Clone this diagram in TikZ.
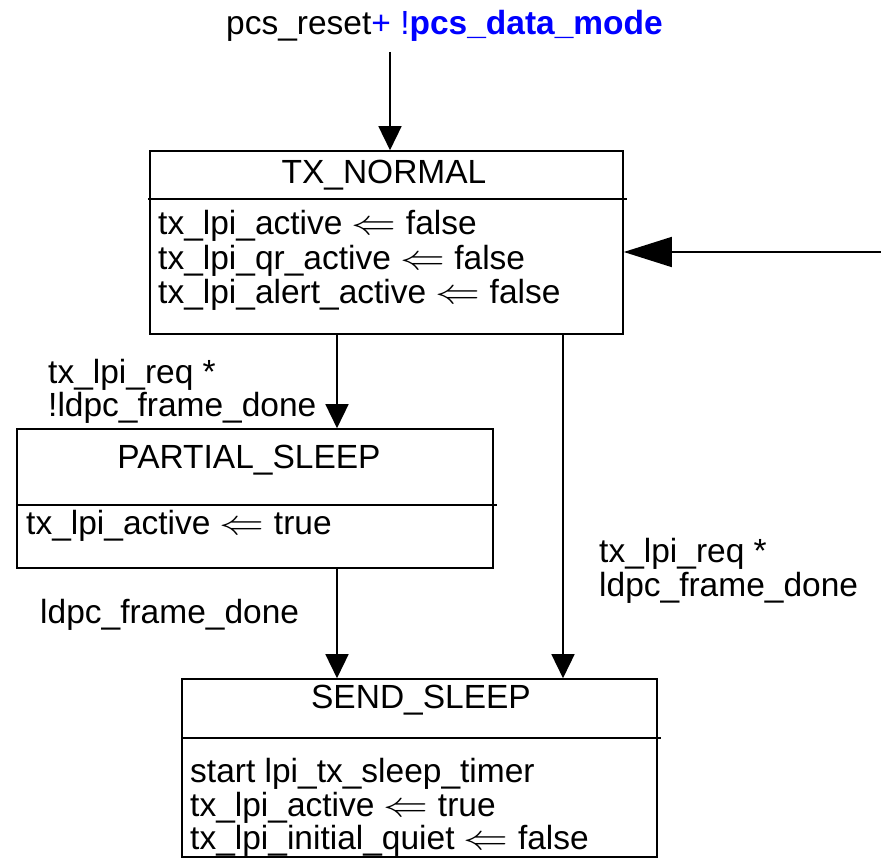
\documentclass[tikz,border=0pt]{standalone}
\usepackage{fontspec}
\usepackage{graphicx}
\setmainfont{Liberation Sans}
\usetikzlibrary{arrows.meta}
\definecolor{linkblue}{RGB}{0,0,255}
\newcommand\assignarrow{\smash{\scalebox{1.8}[1.4]{$\Leftarrow$}}}
\begin{document}
\begin{tikzpicture}[x=1pt,y=-1pt,
  every node/.style={font=\fontsize{33.5}{35}\selectfont, inner sep=0pt},
  statebox/.style={draw, line width=1.6pt, rectangle},
  divider/.style={line width=1.6pt},
  txt/.style={anchor=base west},
  ttl/.style={anchor=base},
  trans/.style={line width=1.5pt, -{Triangle[length=24pt,width=23pt]}},
  bigtrans/.style={line width=1.5pt, -{Triangle[length=48pt,width=30pt]}}]
\useasboundingbox (0,0) rectangle (881,859);

% state boxes
\node[statebox, minimum width=473pt, minimum height=183pt] (txn) at (386.5,242.5) {};
\node[statebox, minimum width=476pt, minimum height=139pt] (ps) at (255,498.5) {};
\node[statebox, minimum width=475pt, minimum height=178pt] (ss) at (419.5,768) {};

% title / action dividers
\draw[divider] (148,199) -- (627,199);
\draw[divider] (17,505) -- (497,505);
\draw[divider] (182,738) -- (661,738);

% TX_NORMAL
\node[ttl] (txnT) at (384,183) {TX\_NORMAL};
\node[txt] (txn1) at (158,234) {tx\_lpi\_active \assignarrow{} false};
\node[txt] (txn2) at (158,269) {tx\_lpi\_qr\_active \assignarrow{} false};
\node[txt] (txn3) at (158,303) {tx\_lpi\_alert\_active \assignarrow{} false};

% PARTIAL_SLEEP
\node[ttl] (psT) at (249,468) {PARTIAL\_SLEEP};
\node[txt] (ps1) at (26,534) {tx\_lpi\_active \assignarrow{} true};

% SEND_SLEEP
\node[ttl] (ssT) at (421,708) {SEND\_SLEEP};
\node[txt] (ss1) at (190,782) {start lpi\_tx\_sleep\_timer};
\node[txt] (ss2) at (190,816) {tx\_lpi\_active \assignarrow{} true};
\node[txt] (ss3) at (190,849) {tx\_lpi\_initial\_quiet \assignarrow{} false};

% entry condition
\node[txt] (entry) at (226,35) {pcs\_reset{\color{linkblue}+ !\textbf{pcs\_data\_mode}}};

% transition labels
\node[txt] (l1a) at (48,383) {tx\_lpi\_req *};
\node[txt] (l1b) at (48,416) {!ldpc\_frame\_done};
\node[txt] (l2a) at (599,562) {tx\_lpi\_req *};
\node[txt] (l2b) at (599,596) {ldpc\_frame\_done};
\node[txt] (l3) at (40,623) {ldpc\_frame\_done};

% connector end points
\coordinate (start) at (390,52);
\coordinate (ext) at (881,252);

% transitions
\draw[trans] (start) -- (start |- txn.north);
\draw[trans] (txn.south -| 337,0) -- (ps.north -| 337,0);
\draw[trans] (txn.south -| 563,0) -- (ss.north -| 563,0);
\draw[trans] (ps.south -| 337,0) -- (ss.north -| 337,0);
\draw[bigtrans] (ext) -- (ext -| txn.east);
\end{tikzpicture}
\end{document}
